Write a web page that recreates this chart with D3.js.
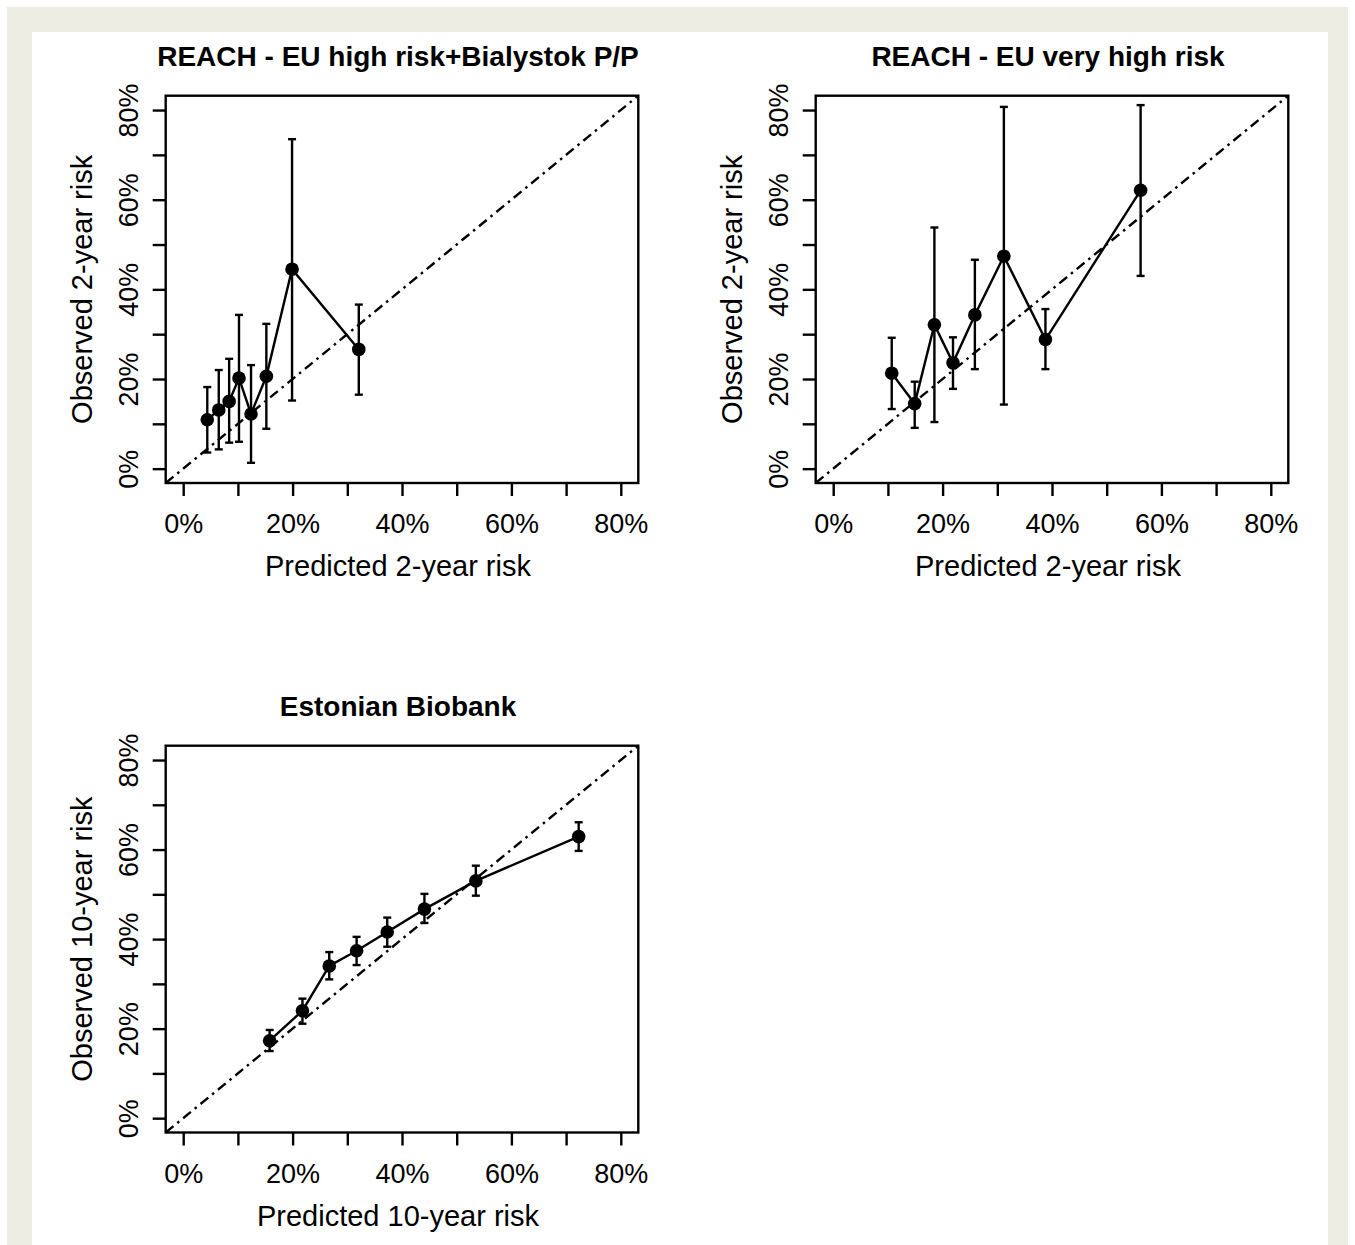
<!DOCTYPE html>
<html>
<head>
<meta charset="utf-8">
<script src="https://cdn.jsdelivr.net/npm/d3@7"></script>
<style>
  html, body { margin: 0; padding: 0; background: #ffffff; }
  svg { display: block; }
  text { font-family: "Liberation Sans", Arial, Helvetica, sans-serif; fill: #000; }
</style>
</head>
<body>
<svg id="chart" width="1355" height="1245"></svg>
<script>
// ---- Calibration data (predicted vs observed risk, with 95% CI) ----
const reachHighPredicted = [0.044, 0.065, 0.084, 0.102, 0.124, 0.152, 0.199, 0.321];
const reachHighObserved  = [0.109, 0.131, 0.150, 0.202, 0.122, 0.206, 0.445, 0.266];
const reachHighLower     = [0.036, 0.043, 0.058, 0.060, 0.013, 0.089, 0.152, 0.165];
const reachHighUpper     = [0.182, 0.220, 0.245, 0.343, 0.231, 0.323, 0.735, 0.366];

const reachVeryHighPredicted = [0.107, 0.149, 0.185, 0.219, 0.259, 0.312, 0.388, 0.562];
const reachVeryHighObserved  = [0.213, 0.145, 0.321, 0.236, 0.343, 0.474, 0.288, 0.621];
const reachVeryHighLower     = [0.133, 0.091, 0.104, 0.178, 0.222, 0.143, 0.222, 0.430];
const reachVeryHighUpper     = [0.292, 0.194, 0.538, 0.293, 0.466, 0.807, 0.356, 0.811];

const estoniaPredicted = [0.158, 0.218, 0.267, 0.317, 0.373, 0.441, 0.535, 0.723];
const estoniaObserved  = [0.173, 0.240, 0.340, 0.374, 0.416, 0.467, 0.530, 0.629];
const estoniaLower     = [0.150, 0.211, 0.310, 0.342, 0.383, 0.436, 0.497, 0.597];
const estoniaUpper     = [0.197, 0.267, 0.371, 0.405, 0.448, 0.501, 0.564, 0.661];

const tickValues = [0, 0.1, 0.2, 0.3, 0.4, 0.5, 0.6, 0.7, 0.8];
const labelledTicks = [0, 0.2, 0.4, 0.6, 0.8];
const axisDomain = [-0.032, 0.832];

const panels = [
  { title: "REACH - EU high risk+Bialystok P/P", xLabel: "Predicted 2-year risk", yLabel: "Observed 2-year risk",
    pred: reachHighPredicted, obs: reachHighObserved, lo: reachHighLower, hi: reachHighUpper,
    box: { left: 165.7, top: 95.7, right: 638.3, bottom: 483 } },
  { title: "REACH - EU very high risk", xLabel: "Predicted 2-year risk", yLabel: "Observed 2-year risk",
    pred: reachVeryHighPredicted, obs: reachVeryHighObserved, lo: reachVeryHighLower, hi: reachVeryHighUpper,
    box: { left: 815.7, top: 95.7, right: 1288.3, bottom: 483 } },
  { title: "Estonian Biobank", xLabel: "Predicted 10-year risk", yLabel: "Observed 10-year risk",
    pred: estoniaPredicted, obs: estoniaObserved, lo: estoniaLower, hi: estoniaUpper,
    box: { left: 165.7, top: 745.7, right: 638.3, bottom: 1132.5 } }
];

const svg = d3.select("#chart");
const LW = 2.4;

// Page frame: thin white margin, beige border, white content area
svg.append("rect").attr("x", 7).attr("y", 7).attr("width", 1341).attr("height", 1245)
  .attr("fill", "#eeede3");
svg.append("rect").attr("x", 32).attr("y", 32).attr("width", 1296).attr("height", 1220)
  .attr("fill", "#ffffff");

const pct = d => Math.round(d * 100) + "%";
const isLabelled = d => labelledTicks.some(t => Math.abs(t - d) < 1e-9);

panels.forEach((p, i) => {
  const b = p.box;
  const x = d3.scaleLinear().domain(axisDomain).range([b.left, b.right]);
  const y = d3.scaleLinear().domain(axisDomain).range([b.bottom, b.top]);
  const g = svg.append("g").attr("class", "panel-" + i);
  const cx = (b.left + b.right) / 2;
  const cy = (b.top + b.bottom) / 2;

  // Title
  g.append("text")
    .attr("x", cx - 4).attr("y", b.top - 30)
    .attr("text-anchor", "middle")
    .style("font-size", "28px").style("font-weight", "bold")
    .text(p.title);

  // x axis
  const xAxis = g.append("g").attr("transform", `translate(0,${b.bottom})`)
    .call(d3.axisBottom(x).tickValues(tickValues).tickSize(13).tickSizeOuter(0)
      .tickFormat(d => isLabelled(d) ? pct(d) : ""));
  xAxis.select(".domain").remove();
  xAxis.selectAll(".tick line").attr("stroke", "#000").attr("stroke-width", LW);
  xAxis.selectAll(".tick text")
    .attr("y", 50).attr("dy", 0)
    .style("font-size", "27px").attr("fill", "#000").attr("font-family", null);

  // y axis
  const yAxis = g.append("g").attr("transform", `translate(${b.left},0)`)
    .call(d3.axisLeft(y).tickValues(tickValues).tickSize(13).tickSizeOuter(0)
      .tickFormat(d => isLabelled(d) ? pct(d) : ""));
  yAxis.select(".domain").remove();
  yAxis.selectAll(".tick line").attr("stroke", "#000").attr("stroke-width", LW);
  yAxis.selectAll(".tick text")
    .attr("x", 0).attr("y", 0).attr("dy", 0)
    .attr("text-anchor", "middle")
    .attr("transform", "translate(-27.5,0) rotate(-90)")
    .style("font-size", "27px").attr("fill", "#000").attr("font-family", null);

  // Axis titles
  g.append("text")
    .attr("x", cx - 4).attr("y", b.bottom + 93)
    .attr("text-anchor", "middle")
    .style("font-size", "29px")
    .text(p.xLabel);
  g.append("text")
    .attr("transform", `translate(${b.left - 73.5},${cy}) rotate(-90)`)
    .attr("text-anchor", "middle")
    .style("font-size", "29px")
    .text(p.yLabel);

  // Plot box
  g.append("rect")
    .attr("x", b.left).attr("y", b.top)
    .attr("width", b.right - b.left).attr("height", b.bottom - b.top)
    .attr("fill", "none").attr("stroke", "#000").attr("stroke-width", LW);

  // Line of perfect calibration
  g.append("line")
    .attr("x1", x(axisDomain[0])).attr("y1", y(axisDomain[0]))
    .attr("x2", x(axisDomain[1])).attr("y2", y(axisDomain[1]))
    .attr("stroke", "#000").attr("stroke-width", LW)
    .attr("stroke-dasharray", "10,5,2.5,5");

  const rows = p.pred.map((v, k) => ({ pred: v, obs: p.obs[k], lo: p.lo[k], hi: p.hi[k] }));

  // Connecting line
  g.append("path")
    .datum(rows)
    .attr("fill", "none").attr("stroke", "#000").attr("stroke-width", LW)
    .attr("d", d3.line().x(d => x(d.pred)).y(d => y(d.obs)));

  // Error bars
  const eb = g.append("g").attr("stroke", "#000").attr("stroke-width", LW);
  eb.selectAll("line.v").data(rows).join("line").attr("class", "v")
    .attr("x1", d => x(d.pred)).attr("x2", d => x(d.pred))
    .attr("y1", d => y(d.lo)).attr("y2", d => y(d.hi));
  eb.selectAll("line.cap-hi").data(rows).join("line").attr("class", "cap-hi")
    .attr("x1", d => x(d.pred) - 4).attr("x2", d => x(d.pred) + 4)
    .attr("y1", d => y(d.hi)).attr("y2", d => y(d.hi));
  eb.selectAll("line.cap-lo").data(rows).join("line").attr("class", "cap-lo")
    .attr("x1", d => x(d.pred) - 4).attr("x2", d => x(d.pred) + 4)
    .attr("y1", d => y(d.lo)).attr("y2", d => y(d.lo));

  // Points
  g.selectAll("circle.pt").data(rows).join("circle").attr("class", "pt")
    .attr("cx", d => x(d.pred)).attr("cy", d => y(d.obs)).attr("r", 6.8)
    .attr("fill", "#000");
});
</script>
</body>
</html>
